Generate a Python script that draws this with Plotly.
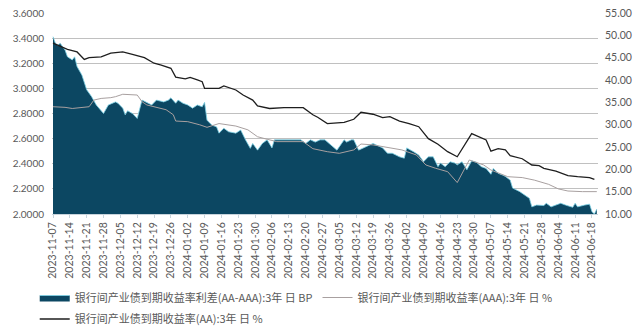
import plotly.graph_objects as go

# ---- data ----
spread_dates = ["2023-11-07","2023-11-08","2023-11-09","2023-11-10","2023-11-12","2023-11-13","2023-11-15","2023-11-16",
    "2023-11-17","2023-11-19","2023-11-21","2023-11-23","2023-11-25","2023-11-28","2023-11-30","2023-12-03","2023-12-04",
    "2023-12-06","2023-12-07","2023-12-08","2023-12-10","2023-12-12","2023-12-14","2023-12-16","2023-12-18","2023-12-20",
    "2023-12-23","2023-12-25","2023-12-26","2023-12-28","2023-12-29","2023-12-31","2024-01-02","2024-01-04","2024-01-06",
    "2024-01-08","2024-01-09","2024-01-10","2024-01-12","2024-01-14","2024-01-15","2024-01-17","2024-01-19","2024-01-22",
    "2024-01-24","2024-01-26","2024-01-28","2024-01-29","2024-01-31","2024-02-02","2024-02-04","2024-02-06","2024-02-07",
    "2024-02-11","2024-02-18","2024-02-20","2024-02-22","2024-02-24","2024-02-26","2024-02-28","2024-03-02","2024-03-04",
    "2024-03-07","2024-03-08","2024-03-10","2024-03-11","2024-03-13","2024-03-15","2024-03-19","2024-03-23","2024-03-25",
    "2024-03-27","2024-03-30","2024-04-01","2024-04-02","2024-04-05","2024-04-07","2024-04-09","2024-04-11","2024-04-13",
    "2024-04-15","2024-04-16","2024-04-18","2024-04-20","2024-04-22","2024-04-23","2024-04-25","2024-04-27","2024-04-29",
    "2024-05-01","2024-05-03","2024-05-05","2024-05-07","2024-05-08","2024-05-10","2024-05-12","2024-05-13","2024-05-15",
    "2024-05-16","2024-05-19","2024-05-21","2024-05-23","2024-05-24","2024-05-26","2024-05-29","2024-05-30","2024-06-01",
    "2024-06-03","2024-06-05","2024-06-07","2024-06-10","2024-06-11","2024-06-12","2024-06-15","2024-06-17","2024-06-18",
    "2024-06-19","2024-06-20"]
spread_bp = [49.7,48.2,47.8,48.2,46.7,45.2,44.5,45.2,
    43.0,41.1,37.8,36.3,34.4,32.5,34.4,35.1,34.8,
    33.7,32.2,33.1,32.5,31.4,35.5,35.0,34.4,35.5,
    35.1,35.5,36.0,34.8,35.5,34.8,34.4,33.7,34.4,
    34.0,35.0,31.0,29.9,29.5,28.1,29.2,28.4,28.1,
    28.8,26.6,24.7,25.8,24.3,25.8,26.6,24.8,26.6,
    26.6,26.6,25.8,26.6,26.1,26.6,26.6,25.1,24.3,
    26.6,26.1,26.6,26.6,24.3,24.8,25.8,24.8,23.6,
    23.6,22.8,22.5,24.8,23.9,23.2,21.7,22.8,22.8,
    20.6,21.4,20.6,21.7,21.4,21.0,21.7,19.9,21.9,
    21.6,20.6,20.2,18.9,20.2,19.1,18.7,18.4,17.6,
    15.8,15.0,14.3,13.5,11.6,12.0,11.9,12.4,11.6,
    12.0,12.4,12.0,11.5,12.4,11.6,12.0,12.2,10.5,
    10.0,11.1]

aaa_dates = ["2023-11-07","2023-11-12","2023-11-15","2023-11-20","2023-11-22","2023-11-24","2023-11-27","2023-12-01",
    "2023-12-03","2023-12-06","2023-12-12","2023-12-14","2023-12-16","2023-12-24","2023-12-27","2023-12-28","2024-01-02",
    "2024-01-07","2024-01-10","2024-01-15","2024-01-22","2024-01-27","2024-01-31","2024-02-04","2024-02-08","2024-02-19",
    "2024-02-23","2024-02-29","2024-03-05","2024-03-11","2024-03-14","2024-03-19","2024-03-25","2024-03-31","2024-04-06",
    "2024-04-10","2024-04-14","2024-04-19","2024-04-23","2024-04-28","2024-05-04","2024-05-07","2024-05-14","2024-05-20",
    "2024-05-25","2024-05-31","2024-06-04","2024-06-08","2024-06-14","2024-06-20"]
aaa_yield = [2.854,2.849,2.840,2.850,2.854,2.907,2.920,2.926,
    2.934,2.953,2.947,2.894,2.868,2.830,2.790,2.740,2.735,
    2.710,2.690,2.720,2.700,2.670,2.615,2.595,2.576,2.576,
    2.520,2.496,2.483,2.510,2.557,2.550,2.530,2.510,2.470,
    2.390,2.364,2.337,2.250,2.430,2.390,2.350,2.297,2.290,
    2.270,2.236,2.200,2.183,2.178,2.178]

aa_dates = ["2023-11-07","2023-11-13","2023-11-17","2023-11-20","2023-11-22","2023-11-27","2023-12-01","2023-12-06",
    "2023-12-10","2023-12-15","2023-12-19","2023-12-22","2023-12-26","2023-12-28","2024-01-01","2024-01-03","2024-01-06",
    "2024-01-08","2024-01-09","2024-01-15","2024-01-17","2024-01-22","2024-01-25","2024-01-29","2024-01-31","2024-02-05",
    "2024-02-11","2024-02-19","2024-02-23","2024-02-25","2024-02-29","2024-03-07","2024-03-11","2024-03-14","2024-03-19",
    "2024-03-23","2024-03-26","2024-03-30","2024-04-03","2024-04-07","2024-04-11","2024-04-15","2024-04-19","2024-04-23",
    "2024-04-29","2024-05-05","2024-05-07","2024-05-10","2024-05-13","2024-05-15","2024-05-20","2024-05-24","2024-05-27",
    "2024-05-29","2024-06-03","2024-06-08","2024-06-12","2024-06-17","2024-06-19"]
aa_yield = [3.360,3.310,3.290,3.230,3.245,3.250,3.280,3.290,
    3.270,3.245,3.200,3.186,3.160,3.090,3.075,3.088,3.067,
    3.053,3.000,3.000,3.020,2.987,2.947,2.907,2.860,2.840,
    2.846,2.846,2.790,2.770,2.720,2.730,2.754,2.810,2.794,
    2.767,2.775,2.740,2.720,2.695,2.600,2.555,2.496,2.456,
    2.640,2.590,2.500,2.520,2.510,2.464,2.440,2.390,2.385,
    2.364,2.342,2.305,2.297,2.290,2.276]

tick_dates = ["2023-11-07","2023-11-14","2023-11-21","2023-11-28","2023-12-05","2023-12-12","2023-12-19","2023-12-26",
    "2024-01-02","2024-01-09","2024-01-16","2024-01-23","2024-01-30","2024-02-06","2024-02-13","2024-02-20","2024-02-27",
    "2024-03-05","2024-03-12","2024-03-19","2024-03-26","2024-04-02","2024-04-09","2024-04-16","2024-04-23","2024-04-30",
    "2024-05-07","2024-05-14","2024-05-21","2024-05-28","2024-06-04","2024-06-11","2024-06-18"]
left_ticks = [2.0, 2.2, 2.4, 2.6, 2.8, 3.0, 3.2, 3.4, 3.6]
right_ticks = [10, 15, 20, 25, 30, 35, 40, 45, 50, 55]

name_spread = "银行间产业债到期收益率利差(AA-AAA):3年 日 BP"
name_aaa = "银行间产业债到期收益率(AAA):3年 日 %"
name_aa = "银行间产业债到期收益率(AA):3年 日 %"

TXT = "#595959"
NUMFONT = "Lato"
CJK = "Noto Sans CJK SC"

fig = go.Figure()
fig.add_trace(go.Scatter(x=spread_dates, y=spread_bp, name=name_spread, yaxis="y",
                         mode="lines", fill="tozeroy", fillcolor="#0c4762",
                         line=dict(color="#7fd3e6", width=0.8), legend="legend"))
fig.add_trace(go.Scatter(x=aaa_dates, y=aaa_yield, name=name_aaa, yaxis="y2",
                         mode="lines", line=dict(color="#a8a0a0", width=1), legend="legend"))
fig.add_trace(go.Scatter(x=aa_dates, y=aa_yield, name=name_aa, yaxis="y2",
                         mode="lines", line=dict(color="#1e1e1e", width=1.3), legend="legend2"))

fig.update_layout(
    width=643, height=331,
    margin=dict(l=52, r=45, t=13, b=117, autoexpand=False),
    paper_bgcolor="white", plot_bgcolor="white",
    font=dict(family=NUMFONT, size=10.5, color=TXT),
    xaxis=dict(type="date", range=["2023-11-06 14:00", "2024-06-20 12:00"],
               tickvals=tick_dates, ticktext=tick_dates, tickangle=-90,
               tickfont=dict(family=NUMFONT, size=10.5, color=TXT), automargin=False,
               showgrid=False, showline=True, linecolor="#c8d4dc", linewidth=1,
               ticks="outside", ticklen=3, tickcolor="#c8d4dc"),
    yaxis=dict(side="right", range=[10, 55], tickvals=right_ticks,
               tickformat=".2f", showgrid=False, zeroline=False, automargin=False,
               tickfont=dict(family=NUMFONT, size=10.5, color=TXT), ticklabelstandoff=6),
    yaxis2=dict(side="left", overlaying="y", range=[2.0, 3.6], tickvals=left_ticks,
                tickformat=".4f", showgrid=True, gridcolor="#c0c0c0", gridwidth=1,
                zeroline=False, automargin=False, tickfont=dict(family=NUMFONT, size=10, color=TXT),
                ticklabelstandoff=7),
    legend=dict(orientation="h", x=0.054, xanchor="left", xref="container",
                y=0.145, yanchor="top", yref="container",
                font=dict(family=CJK, size=11, color=TXT), bgcolor="rgba(0,0,0,0)",
                itemwidth=30, tracegroupgap=0),
    legend2=dict(orientation="h", x=0.054, xanchor="left", xref="container",
                 y=0.08, yanchor="top", yref="container",
                 font=dict(family=CJK, size=11, color=TXT), bgcolor="rgba(0,0,0,0)",
                 itemwidth=30),
    showlegend=True,
)

fig.write_html("out.html")
